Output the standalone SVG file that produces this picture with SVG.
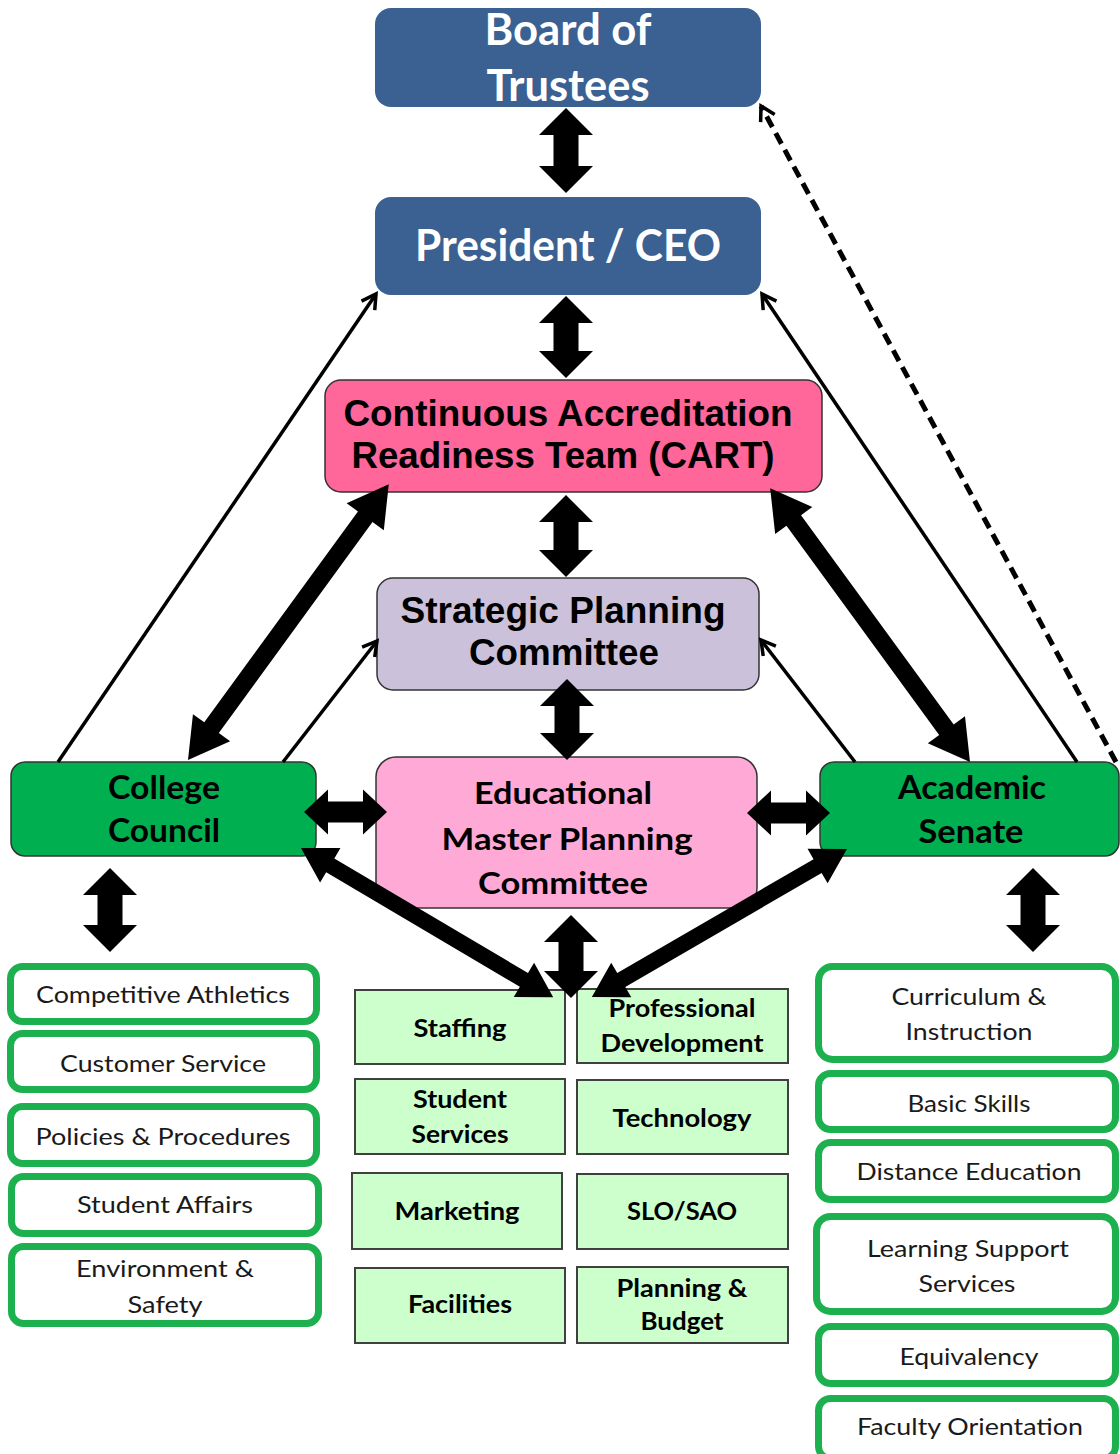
<svg xmlns="http://www.w3.org/2000/svg" width="1120" height="1454" viewBox="0 0 1120 1454">
<style>
.bg{fill:#ffffff}
.blue{fill:#3a6191}
.cal{font-family:Lato,"Open Sans","Liberation Sans",sans-serif;text-anchor:middle}
.arl{font-family:"Liberation Sans",Arial,sans-serif;font-weight:bold;text-anchor:middle;fill:#000}
.wt{fill:#ffffff;font-weight:bold;font-size:43px}
.bk{fill:#000;font-weight:bold}
.box{stroke:#333;stroke-width:1.5}
.grid{fill:#ccffcc;stroke:#404040;stroke-width:2}
.gt{font-size:25px}
.lst{fill:#ffffff;stroke:#1db04f;stroke-width:7}
.lt{fill:#1a1a1a;font-size:23px}
.thin{stroke:#000;stroke-width:3.5;fill:none;marker-end:url(#open)}
.dash{stroke-dasharray:12 7;stroke-width:5}
.blk{fill:#000}
</style>
<defs>
<marker id="open" markerUnits="userSpaceOnUse" markerWidth="22" markerHeight="22" viewBox="0 0 22 22" refX="19" refY="11" orient="auto">
<path d="M5,3 L19,11 L5,19" fill="none" stroke="#000" stroke-width="3.5"/>
</marker>
</defs>
<rect class="bg" x="0" y="0" width="1120" height="1454"/>

<g id="board">
<rect class="blue" x="375" y="8" width="386" height="99" rx="16"/>
<text class="cal wt" x="568" y="45" textLength="167" lengthAdjust="spacingAndGlyphs">Board of</text>
<text class="cal wt" x="568" y="101" textLength="163" lengthAdjust="spacingAndGlyphs">Trustees</text>
</g>
<g id="president">
<rect class="blue" x="375" y="197" width="386" height="98" rx="16"/>
<text class="cal wt" x="568" y="261" textLength="306" lengthAdjust="spacingAndGlyphs">President / CEO</text>
</g>
<g id="cart">
<rect class="box" fill="#ff6699" x="325" y="380" width="497" height="112" rx="16"/>
<text class="arl" font-size="36" x="568" y="426" textLength="449" lengthAdjust="spacingAndGlyphs">Continuous Accreditation</text>
<text class="arl" font-size="36" x="563" y="468" textLength="423" lengthAdjust="spacingAndGlyphs">Readiness Team (CART)</text>
</g>
<g id="spc">
<rect class="box" fill="#ccc1da" x="377" y="578" width="382" height="112" rx="16"/>
<text class="arl" font-size="36" x="563" y="623" textLength="325" lengthAdjust="spacingAndGlyphs">Strategic Planning</text>
<text class="arl" font-size="36" x="564" y="665" textLength="190" lengthAdjust="spacingAndGlyphs">Committee</text>
</g>
<g id="empc">
<rect class="box" fill="#ffaad6" x="376" y="757" width="381" height="151" rx="20"/>
<text class="cal bk" font-size="31" x="563" y="804" textLength="178" lengthAdjust="spacingAndGlyphs">Educational</text>
<text class="cal bk" font-size="31" x="567" y="850" textLength="251" lengthAdjust="spacingAndGlyphs">Master Planning</text>
<text class="cal bk" font-size="31" x="563" y="894" textLength="170" lengthAdjust="spacingAndGlyphs">Committee</text>
</g>
<g id="college-council">
<rect class="box" fill="#00b050" x="11" y="762" width="305" height="94" rx="14"/>
<text class="cal bk" font-size="32" x="164" y="799" textLength="112" lengthAdjust="spacingAndGlyphs">College</text>
<text class="cal bk" font-size="32" x="164" y="842" textLength="112" lengthAdjust="spacingAndGlyphs">Council</text>
</g>
<g id="academic-senate">
<rect class="box" fill="#00b050" x="820" y="762" width="299" height="94" rx="14"/>
<text class="cal bk" font-size="32" x="972" y="799" textLength="148" lengthAdjust="spacingAndGlyphs">Academic</text>
<text class="cal bk" font-size="32" x="971" y="843" textLength="105" lengthAdjust="spacingAndGlyphs">Senate</text>
</g>

<g id="staffing"><rect class="grid" x="355" y="990" width="210" height="74"/><text class="cal bk gt" x="460" y="1037" textLength="93" lengthAdjust="spacingAndGlyphs">Staffing</text></g>
<g id="professional-development"><rect class="grid" x="577" y="989" width="211" height="74"/><text class="cal bk gt" x="682" y="1017" textLength="147" lengthAdjust="spacingAndGlyphs">Professional</text><text class="cal bk gt" x="682" y="1052" textLength="163" lengthAdjust="spacingAndGlyphs">Development</text></g>
<g id="student-services"><rect class="grid" x="355" y="1079" width="210" height="75"/><text class="cal bk gt" x="460" y="1108" textLength="94" lengthAdjust="spacingAndGlyphs">Student</text><text class="cal bk gt" x="460" y="1143" textLength="97" lengthAdjust="spacingAndGlyphs">Services</text></g>
<g id="technology"><rect class="grid" x="577" y="1080" width="211" height="74"/><text class="cal bk gt" x="682" y="1127" textLength="139" lengthAdjust="spacingAndGlyphs">Technology</text></g>
<g id="marketing"><rect class="grid" x="352" y="1173" width="210" height="76"/><text class="cal bk gt" x="457" y="1220" textLength="125" lengthAdjust="spacingAndGlyphs">Marketing</text></g>
<g id="slo-sao"><rect class="grid" x="577" y="1174" width="211" height="75"/><text class="cal bk gt" x="682" y="1220" textLength="110" lengthAdjust="spacingAndGlyphs">SLO/SAO</text></g>
<g id="facilities"><rect class="grid" x="355" y="1268" width="210" height="75"/><text class="cal bk gt" x="460" y="1313" textLength="104" lengthAdjust="spacingAndGlyphs">Facilities</text></g>
<g id="planning-budget"><rect class="grid" x="577" y="1267" width="211" height="76"/><text class="cal bk gt" x="682" y="1297" textLength="131" lengthAdjust="spacingAndGlyphs">Planning &amp;</text><text class="cal bk gt" x="682" y="1330" textLength="83" lengthAdjust="spacingAndGlyphs">Budget</text></g>

<g id="competitive-athletics"><rect class="lst" x="10.5" y="966.5" width="306" height="55" rx="12"/><text class="cal lt" x="163" y="1003" textLength="254" lengthAdjust="spacingAndGlyphs">Competitive Athletics</text></g>
<g id="customer-service"><rect class="lst" x="10.5" y="1033.5" width="306" height="56" rx="12"/><text class="cal lt" x="163" y="1072" textLength="206" lengthAdjust="spacingAndGlyphs">Customer Service</text></g>
<g id="policies-procedures"><rect class="lst" x="10.5" y="1106.5" width="306" height="57" rx="12"/><text class="cal lt" x="163" y="1145" textLength="255" lengthAdjust="spacingAndGlyphs">Policies &amp; Procedures</text></g>
<g id="student-affairs"><rect class="lst" x="11.5" y="1176.5" width="307" height="57" rx="12"/><text class="cal lt" x="165" y="1213" textLength="176" lengthAdjust="spacingAndGlyphs">Student Affairs</text></g>
<g id="environment-safety"><rect class="lst" x="11.5" y="1246.5" width="307" height="77" rx="12"/><text class="cal lt" x="165" y="1277" textLength="178" lengthAdjust="spacingAndGlyphs">Environment &amp;</text><text class="cal lt" x="165" y="1313" textLength="75" lengthAdjust="spacingAndGlyphs">Safety</text></g>

<g id="curriculum-instruction"><rect class="lst" x="818.5" y="966.5" width="297" height="93" rx="14"/><text class="cal lt" x="969" y="1005" textLength="155" lengthAdjust="spacingAndGlyphs">Curriculum &amp;</text><text class="cal lt" x="969" y="1040" textLength="127" lengthAdjust="spacingAndGlyphs">Instruction</text></g>
<g id="basic-skills"><rect class="lst" x="818.5" y="1073.5" width="297" height="56" rx="12"/><text class="cal lt" x="969" y="1112" textLength="123" lengthAdjust="spacingAndGlyphs">Basic Skills</text></g>
<g id="distance-education"><rect class="lst" x="818.5" y="1142.5" width="297" height="57" rx="12"/><text class="cal lt" x="969" y="1180" textLength="225" lengthAdjust="spacingAndGlyphs">Distance Education</text></g>
<g id="learning-support-services"><rect class="lst" x="816.5" y="1216.5" width="299" height="95" rx="14"/><text class="cal lt" x="968" y="1257" textLength="202" lengthAdjust="spacingAndGlyphs">Learning Support</text><text class="cal lt" x="967" y="1292" textLength="97" lengthAdjust="spacingAndGlyphs">Services</text></g>
<g id="equivalency"><rect class="lst" x="818.5" y="1326.5" width="297" height="57" rx="12"/><text class="cal lt" x="969" y="1365" textLength="139" lengthAdjust="spacingAndGlyphs">Equivalency</text></g>
<g id="faculty-orientation"><rect class="lst" x="818.5" y="1398.5" width="297" height="60" rx="12"/><text class="cal lt" x="970" y="1435" textLength="226" lengthAdjust="spacingAndGlyphs">Faculty Orientation</text></g>

<g id="connectors">
<line class="thin" x1="58" y1="762" x2="376" y2="294"/>
<line class="thin" x1="283" y1="762" x2="377" y2="641"/>
<line class="thin" x1="1077" y1="762" x2="762" y2="294"/>
<line class="thin" x1="855" y1="762" x2="761" y2="640"/>
<line class="thin dash" x1="1116" y1="762" x2="761" y2="106"/>

<polygon class="blk" transform="translate(566,108) rotate(90)" points="0,0 27,-27 27,-12.5 58,-12.5 58,-27 85,0 58,27 58,12.5 27,12.5 27,27"/>
<polygon class="blk" transform="translate(566,296) rotate(90)" points="0,0 27,-27 27,-12.5 55,-12.5 55,-27 82,0 55,27 55,12.5 27,12.5 27,27"/>
<polygon class="blk" transform="translate(566,495) rotate(90)" points="0,0 27,-27 27,-12.5 55,-12.5 55,-27 82,0 55,27 55,12.5 27,12.5 27,27"/>
<polygon class="blk" transform="translate(567,679) rotate(90)" points="0,0 27,-27 27,-12.5 54,-12.5 54,-27 81,0 54,27 54,12.5 27,12.5 27,27"/>
<polygon class="blk" transform="translate(110,868) rotate(90)" points="0,0 27,-27 27,-12.5 57,-12.5 57,-27 84,0 57,27 57,12.5 27,12.5 27,27"/>
<polygon class="blk" transform="translate(1033,868) rotate(90)" points="0,0 27,-27 27,-12.5 57,-12.5 57,-27 84,0 57,27 57,12.5 27,12.5 27,27"/>
<polygon class="blk" transform="translate(571,915) rotate(90)" points="0,0 27,-27 27,-12.5 56,-12.5 56,-27 83,0 56,27 56,12.5 27,12.5 27,27"/>
<polygon class="blk" transform="translate(304,812)" points="0,0 24,-22.5 24,-10.5 59,-10.5 59,-22.5 83,0 59,22.5 59,10.5 24,10.5 24,22.5"/>
<polygon class="blk" transform="translate(747,813)" points="0,0 24,-22.5 24,-10.5 59,-10.5 59,-22.5 83,0 59,22.5 59,10.5 24,10.5 24,22.5"/>
<polygon class="blk" transform="translate(188,760) rotate(-53.93)" points="0,0 40,-23 40,-9 301,-9 301,-23 341,0 301,23 301,9 40,9 40,23"/>
<polygon class="blk" transform="translate(970,762) rotate(-126.12)" points="0,0 40,-23 40,-9 299,-9 299,-23 339,0 299,23 299,9 40,9 40,23"/>
<polygon class="blk" transform="translate(301,848) rotate(30.6)" points="0,0 34,-20 34,-8 259,-8 259,-20 293,0 259,20 259,8 34,8 34,20"/>
<polygon class="blk" transform="translate(847,849) rotate(149.87)" points="0,0 34,-20 34,-8 261,-8 261,-20 295,0 261,20 261,8 34,8 34,20"/>
</g>
</svg>
